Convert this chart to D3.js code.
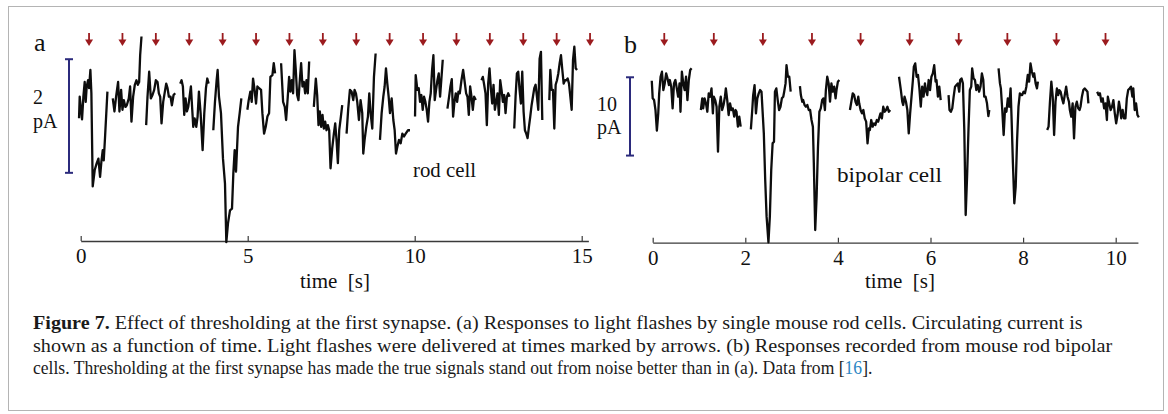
<!DOCTYPE html>
<html>
<head>
<meta charset="utf-8">
<script src="https://cdn.jsdelivr.net/npm/d3@7"></script>
<style>
  body { margin: 0; background: #fff; }
  svg { display: block; font-family: "Liberation Serif", "Times New Roman", serif; }
</style>
</head>
<body>
<div id="fig"></div>
<script>
// ---------------- data (time in s, current in pA, relative to baseline) ----------------
const rodTrace = [
  [[-0.05,-0.38],[-0.03,0],[0.01,-0.23],[0.04,-0.40],[0.08,0],[0.12,0.26],[0.15,-0.09],[0.18,0.18],[0.22,0.29],[0.25,0.15],[0.29,0.47],[0.32,0.06],[0.36,-1.58],[0.42,-1.29],[0.48,-1.17],[0.53,-1.09],[0.58,-1.41],[0.62,-1.14],[0.66,-0.94],[0.69,-1.12],[0.73,-0.70],[0.80,0.09]],
  [[0.96,-0.03],[1.01,-0.26],[1.06,0],[1.12,0.26],[1.16,-0.26],[1.21,0.12],[1.25,-0.23],[1.29,-0.06],[1.34,-0.18],[1.38,-0.15],[1.44,-0.03],[1.48,0.18],[1.52,-0.44],[1.57,0],[1.62,0.21],[1.67,0.29],[1.71,0.21],[1.75,0.26],[1.78,0.73],[1.82,1.06]],
  [[1.96,-0.50],[2.00,0],[2.05,0.44],[2.10,-0.03],[2.15,0.03],[2.20,0.12],[2.25,0.29],[2.30,0.26],[2.34,0.06],[2.38,0],[2.42,-0.47],[2.47,-0.09],[2.52,0.09],[2.56,0.23],[2.60,0.15],[2.64,0],[2.69,0],[2.73,-0.15],[2.78,0.03],[2.83,0.06]],
  [[2.98,0.23],[3.02,0.29],[3.06,0.18],[3.10,-0.32],[3.14,-0.03],[3.18,-0.26],[3.22,-0.18],[3.26,0],[3.30,0.18],[3.34,-0.23],[3.37,-0.53],[3.41,-0.38],[3.46,-0.53],[3.50,-0.35],[3.54,0.09],[3.59,-0.29],[3.65,-0.94],[3.70,-0.29],[3.75,0.15],[3.79,0.32],[3.83,0.23]],
  [[3.97,-0.59],[4.02,-0.09],[4.07,0.29],[4.10,0.47],[4.14,0],[4.20,-0.29],[4.26,-1.09],[4.32,-1.53],[4.36,-2.56],[4.41,-2.23],[4.47,-2.00],[4.53,-1.97],[4.57,-1.35],[4.61,-0.94],[4.65,-1.32],[4.71,-0.53],[4.76,-0.29],[4.81,-0.03]],
  [[4.99,-0.23],[5.03,-0.06],[5.08,0.09],[5.12,-0.09],[5.16,0.32],[5.20,0.15],[5.25,-0.12],[5.29,0.18],[5.34,0.15],[5.40,0.12],[5.44,-0.29],[5.49,-0.65],[5.54,-0.53],[5.59,-0.35],[5.64,-0.29],[5.68,0.35],[5.74,0.38],[5.78,0.59],[5.82,0.41]],
  [[6.00,0.59],[6.06,-0.09],[6.11,-0.18],[6.15,-0.41],[6.20,0],[6.24,0.35],[6.28,0.09],[6.32,0.29],[6.36,0.06],[6.40,0.82],[6.44,0.47],[6.48,0.03],[6.52,-0.06],[6.56,0.29],[6.60,0.59],[6.64,0.18],[6.68,0.26],[6.72,0.06],[6.76,0.29],[6.80,0.06],[6.84,0.62]],
  [[6.98,-0.18],[7.04,0.32],[7.08,0.03],[7.12,-0.50],[7.16,-0.26],[7.20,-0.53],[7.24,-0.32],[7.28,-0.56],[7.32,-0.44],[7.36,-0.59],[7.40,-0.50],[7.44,-0.59],[7.48,-1.26],[7.53,-0.91],[7.58,-0.65],[7.62,-0.47],[7.66,-0.76],[7.70,-1.17],[7.74,-0.59],[7.79,-0.35],[7.83,-0.15]],
  [[7.96,-0.65],[8.01,-0.21],[8.06,0.12],[8.11,0.09],[8.16,-0.06],[8.20,0.12],[8.24,0.06],[8.28,-0.09],[8.33,-0.41],[8.38,-0.06],[8.43,-0.29],[8.46,-1.00],[8.50,-0.76],[8.55,-0.53],[8.60,-0.35],[8.64,0.06],[8.68,-0.29],[8.73,-0.56],[8.78,0.35],[8.83,0.76]],
  [[8.96,-0.76],[9.01,-0.29],[9.06,0],[9.10,0.18],[9.14,0.50],[9.18,0.23],[9.22,0],[9.26,-0.29],[9.31,-0.03],[9.36,-0.41],[9.40,-0.59],[9.44,-1.00],[9.48,-0.88],[9.53,-0.76],[9.58,-0.82],[9.63,-0.65],[9.68,-0.70],[9.73,-0.65],[9.80,-0.59],[9.86,-0.59]],
  [[10.01,-0.35],[10.03,0.38],[10.08,0.12],[10.12,0.15],[10.16,-0.09],[10.20,0.03],[10.24,-0.23],[10.28,0],[10.32,-0.09],[10.36,-0.23],[10.40,-0.44],[10.44,-0.09],[10.48,0.06],[10.52,0.47],[10.56,0.73],[10.60,-0.06],[10.64,0.12],[10.68,0.29],[10.72,0.41],[10.76,0],[10.80,0.32],[10.84,0.65]],
  [[10.98,-0.21],[11.03,0],[11.07,0.18],[11.11,0.31],[11.15,-0.35],[11.19,-0.09],[11.23,0.06],[11.27,-0.09],[11.31,0.09],[11.35,0.06],[11.40,0.29],[11.45,0.47],[11.49,0.29],[11.54,0.06],[11.58,0],[11.62,-0.32],[11.66,0.18],[11.70,0],[11.74,-0.23],[11.78,0],[11.83,-0.06]],
  [[12.00,0.29],[12.04,0.35],[12.08,0.21],[12.12,0.06],[12.16,-0.50],[12.20,0.23],[12.24,0.50],[12.28,0.15],[12.32,-0.12],[12.36,0.21],[12.40,-0.23],[12.44,-0.09],[12.48,0.06],[12.52,-0.32],[12.56,0.29],[12.60,0.12],[12.64,-0.09],[12.68,0.03],[12.72,-0.29],[12.76,0],[12.80,0.06],[12.84,0]],
  [[12.98,-0.56],[13.02,0],[13.06,0.41],[13.10,0.44],[13.14,0.12],[13.18,-0.12],[13.22,0.44],[13.26,-0.26],[13.30,-0.59],[13.34,-0.65],[13.38,-0.73],[13.42,-0.53],[13.46,-0.35],[13.50,-0.15],[13.54,0],[13.58,0.15],[13.62,0.21],[13.66,0],[13.70,-0.23],[13.74,0.67],[13.78,0.79],[13.82,-0.41]],
  [[14.03,-0.06],[14.06,0.47],[14.10,0.12],[14.14,0.12],[14.18,-0.56],[14.22,0.21],[14.26,0.29],[14.30,0.41],[14.34,0.59],[14.38,0.73],[14.42,0.47],[14.46,0.23],[14.50,0.29],[14.54,0.29],[14.58,0.32],[14.62,0.23],[14.66,0],[14.70,-0.23],[14.74,0.65],[14.78,0.88],[14.82,0.50],[14.86,0.47]]
];

const bipolarTrace = [
  [[-0.02,2.04],[0.00,-0.21],[0.03,-0.43],[0.06,-1.70],[0.09,-4.34],[0.12,-2.13],[0.14,0.43],[0.17,2.55],[0.20,3.19],[0.23,0.85],[0.26,1.70],[0.29,2.98],[0.32,2.34],[0.35,1.49],[0.37,2.13],[0.40,1.28],[0.43,-1.49],[0.46,1.70],[0.49,2.13],[0.52,1.06],[0.55,0],[0.58,1.70],[0.60,-1.92],[0.63,3.19],[0.66,1.70],[0.69,0.85],[0.72,2.55],[0.75,-0.43],[0.78,2.13],[0.81,3.41],[0.84,3.62]],
  [[1.04,-1.70],[1.07,-0.21],[1.09,-1.49],[1.12,-0.21],[1.15,-0.85],[1.18,-1.92],[1.21,0.43],[1.24,0],[1.27,1.06],[1.30,-2.13],[1.32,0],[1.35,-0.43],[1.38,-1.28],[1.41,-7.02],[1.44,-1.28],[1.47,0],[1.50,-1.70],[1.53,-1.06],[1.56,0],[1.58,1.06],[1.61,-0.43],[1.64,-2.34],[1.67,-0.85],[1.70,-1.70],[1.73,-1.49],[1.76,-2.55],[1.79,-1.70],[1.81,-1.92],[1.84,-3.83],[1.87,-2.55],[1.90,-3.83]],
  [[2.12,-4.17],[2.15,-1.70],[2.17,0.21],[2.20,1.49],[2.23,-2.13],[2.26,-0.21],[2.29,0.43],[2.32,0.85],[2.35,0.64],[2.38,-2.55],[2.40,-4.68],[2.43,-10.64],[2.46,-15.32],[2.50,-18.6],[2.53,-15.32],[2.56,-9.37],[2.59,-5.96],[2.62,-5.75],[2.64,0.64],[2.67,1.06],[2.70,-0.43],[2.73,-1.70],[2.76,-1.28],[2.79,-0.21],[2.82,0],[2.84,0.64],[2.87,1.70],[2.89,4.04],[2.92,2.55],[2.95,2.55],[2.98,0.64]],
  [[3.18,1.36],[3.20,0.21],[3.23,-0.64],[3.25,-0.43],[3.28,-1.06],[3.31,-1.28],[3.34,-1.06],[3.37,-1.70],[3.40,-1.70],[3.43,-2.98],[3.46,-3.83],[3.48,-8.51],[3.51,-17.03],[3.54,-12.77],[3.57,-6.39],[3.60,-1.92],[3.63,-1.49],[3.66,-0.43],[3.69,-0.21],[3.72,-1.70],[3.74,0.85],[3.77,2.55],[3.80,1.70],[3.83,-0.64],[3.86,1.70],[3.89,0.64],[3.92,1.28],[3.95,-0.21],[3.97,0.85],[4.00,1.92],[4.03,2.13]],
  [[4.26,-1.70],[4.29,-0.64],[4.32,0.43],[4.35,0.21],[4.38,-0.64],[4.41,-1.06],[4.44,0],[4.46,-0.85],[4.49,-1.70],[4.52,-2.13],[4.55,-1.70],[4.58,-2.77],[4.61,-3.19],[4.64,-5.96],[4.67,-4.04],[4.69,-4.26],[4.72,-2.98],[4.75,-3.83],[4.78,-3.41],[4.81,-3.62],[4.84,-2.98],[4.87,-3.19],[4.90,-2.55],[4.92,-2.13],[4.95,-2.77],[4.98,-1.28],[5.01,-1.92],[5.04,-1.70],[5.07,-1.28],[5.10,-1.92],[5.13,-1.70]],
  [[5.32,2.55],[5.36,0.85],[5.39,-0.64],[5.41,-1.06],[5.44,0],[5.47,-0.64],[5.50,-1.70],[5.53,-4.68],[5.56,-2.13],[5.59,0],[5.62,2.13],[5.64,3.83],[5.67,4.26],[5.70,2.55],[5.73,2.77],[5.76,1.06],[5.79,-1.28],[5.82,1.28],[5.85,0],[5.88,1.70],[5.90,0.85],[5.93,0.21],[5.96,2.13],[5.99,0.85],[6.02,2.55],[6.05,2.98],[6.08,4.04],[6.11,1.92],[6.13,2.13],[6.16,0],[6.19,1.28],[6.22,-0.43]],
  [[6.39,0.21],[6.41,-1.70],[6.44,-1.92],[6.47,-1.49],[6.50,0],[6.53,1.28],[6.56,1.49],[6.59,1.70],[6.62,0.64],[6.64,2.13],[6.67,2.34],[6.70,1.70],[6.73,-4.26],[6.76,-15.11],[6.79,-10.22],[6.82,-4.26],[6.85,0.85],[6.88,1.28],[6.90,3.62],[6.93,2.34],[6.96,2.13],[6.99,0.85],[7.02,1.49],[7.05,0.64],[7.08,1.28],[7.11,2.98],[7.14,2.13],[7.16,0],[7.19,0],[7.22,-0.85],[7.25,-2.47],[7.27,-1.70]],
  [[7.47,3.62],[7.50,1.70],[7.52,1.06],[7.55,-1.70],[7.58,-4.90],[7.61,-1.49],[7.64,-1.92],[7.67,-0.21],[7.70,-1.28],[7.73,1.06],[7.75,-2.55],[7.78,-8.51],[7.81,-13.62],[7.84,-11.49],[7.87,-5.53],[7.90,-1.28],[7.93,0.43],[7.96,0.21],[7.98,0.21],[8.01,0.64],[8.04,0.43],[8.07,1.28],[8.10,2.77],[8.13,1.92],[8.16,4.26],[8.19,3.19],[8.22,2.55],[8.24,2.98],[8.27,1.70],[8.30,1.06],[8.32,1.92]],
  [[8.52,-4.26],[8.55,-3.83],[8.58,-0.64],[8.61,1.92],[8.64,0],[8.67,-4.90],[8.70,-0.64],[8.73,1.06],[8.76,0.21],[8.78,0.85],[8.81,0.64],[8.84,-0.21],[8.87,-0.85],[8.90,0.21],[8.93,1.28],[8.96,0],[8.99,-0.64],[9.01,-1.70],[9.04,-2.55],[9.07,-0.85],[9.10,-5.32],[9.13,-1.28],[9.16,-0.64],[9.19,-1.49],[9.22,-1.70],[9.24,-1.28],[9.27,0],[9.30,0.85],[9.33,1.06],[9.36,0.85],[9.39,0.64],[9.41,-0.85]],
  [[9.60,0.64],[9.63,0.21],[9.66,0.43],[9.69,-0.64],[9.72,-0.21],[9.75,-1.49],[9.78,-0.85],[9.81,-2.98],[9.83,0],[9.86,-0.85],[9.89,-1.70],[9.92,-1.28],[9.95,-0.43],[9.98,-2.13],[10.01,-3.41],[10.04,-2.34],[10.07,-0.64],[10.10,-1.70],[10.12,-2.77],[10.15,-1.70],[10.18,-2.77],[10.21,-2.77],[10.24,-0.21],[10.27,0.85],[10.30,1.06],[10.33,1.28],[10.36,0],[10.38,1.06],[10.41,-1.70],[10.44,-0.85],[10.47,-2.34],[10.50,-2.64]]
];

const rodFlashTimes = [0.25, 1.25, 2.25, 3.25, 4.25, 5.25, 6.25, 7.25, 8.25, 9.25, 10.25, 11.25, 12.25, 13.25, 14.25, 15.25];
const bipolarFlashTimes = [0.25, 1.32, 2.38, 3.44, 4.49, 5.55, 6.61, 7.66, 8.72, 9.78];

const rodTicks = [0, 5, 10, 15];
const bipolarTicks = [0, 2, 4, 6, 8, 10];

// ---------------- svg ----------------
const width = 1168, height = 414;
const svg = d3.select("#fig").append("svg")
  .attr("width", width)
  .attr("height", height)
  .attr("viewBox", [0, 0, width, height]);

svg.append("rect")
  .attr("x", 8.5).attr("y", 6.5)
  .attr("width", 1155).attr("height", 404)
  .attr("fill", "none")
  .attr("stroke", "#b4b4b4")
  .attr("stroke-width", 1);

const arrowColor = "#9b1b1e";
const barColor = "#2b2a7c";

function drawPanel(p) {
  const g = svg.append("g");

  const x = d3.scaleLinear().domain(p.xDomain).range(p.xRange);
  const y = d3.scaleLinear().domain(p.yDomain).range(p.yRange);

  // axis along the bottom, ticks pointing up
  const axis = g.append("g")
    .attr("transform", `translate(0,${p.yRange[0]})`)
    .call(d3.axisBottom(x).tickValues(p.ticks).tickSizeInner(-5).tickSizeOuter(0).tickPadding(7));
  axis.select(".domain").attr("stroke", "#3a3a3a").attr("stroke-width", 1.3);
  axis.selectAll(".tick line").attr("stroke", "#3a3a3a").attr("stroke-width", 1.2);
  axis.selectAll(".tick text")
    .attr("font-family", "Liberation Serif, serif")
    .attr("font-size", 21)
    .attr("fill", "#111");

  g.append("text")
    .attr("x", p.xLabelX).attr("y", 288)
    .attr("text-anchor", "middle")
    .attr("font-size", 21)
    .attr("fill", "#111")
    .style("white-space", "pre")
    .text("time  [s]");

  // flash arrows
  const arrows = g.selectAll(".arrow").data(p.flashes).join("g")
    .attr("transform", d => `translate(${x(d)},0)`);
  arrows.append("line")
    .attr("y1", 33).attr("y2", 41)
    .attr("stroke", arrowColor).attr("stroke-width", 1.8);
  arrows.append("path")
    .attr("d", "M-4,39.5L4,39.5L0,46Z")
    .attr("fill", arrowColor);

  // trace
  const line = d3.line().x(d => x(d[0])).y(d => y(d[1]));
  g.selectAll(".seg").data(p.trace).join("path")
    .attr("d", line)
    .attr("fill", "none")
    .attr("stroke", "#0d0d0d")
    .attr("stroke-width", 2.3)
    .attr("stroke-linejoin", "round")
    .attr("stroke-linecap", "butt");

  // scale bar
  const bx = x(p.bar.t), by1 = y(p.bar.top), by2 = y(p.bar.top - p.bar.size);
  g.append("line").attr("x1", bx).attr("x2", bx).attr("y1", by1).attr("y2", by2)
    .attr("stroke", barColor).attr("stroke-width", 2);
  [by1, by2].forEach(v => g.append("line")
    .attr("x1", bx - 4).attr("x2", bx + 4).attr("y1", v).attr("y2", v)
    .attr("stroke", barColor).attr("stroke-width", 2));

  g.append("text").attr("x", p.barLabel.x).attr("y", p.barLabel.y1)
    .attr("font-size", 20).attr("fill", "#111").text(p.barLabel.value);
  g.append("text").attr("x", p.barLabel.x).attr("y", p.barLabel.y2)
    .attr("font-size", 20).attr("fill", "#111").text("pA");

  // panel letter and cell label
  g.append("text").attr("x", p.letter.x).attr("y", p.letter.y)
    .attr("font-size", 26).attr("fill", "#111").text(p.letter.text);
  g.append("text").attr("x", p.cell.x).attr("y", p.cell.y)
    .attr("font-size", 21).attr("fill", "#111")
    .attr("textLength", p.cell.w).attr("lengthAdjust", "spacingAndGlyphs")
    .text(p.cell.text);
}

drawPanel({
  trace: rodTrace, flashes: rodFlashTimes, ticks: rodTicks,
  xDomain: [0, 15.2], xRange: [80.7, 80.7 + 15.2 * 33.4],
  yDomain: [-2.54, 1], yRange: [241, 39.9],
  xLabelX: 335,
  bar: { t: -0.35, top: 0.66, size: 2 },
  barLabel: { x: 33, y1: 104, y2: 128, value: "2" },
  letter: { x: 34, y: 51, text: "a" },
  cell: { x: 413, y: 177, w: 63, text: "rod cell" }
});

drawPanel({
  trace: bipolarTrace, flashes: bipolarFlashTimes, ticks: bipolarTicks,
  xDomain: [0, 10.48], xRange: [652.7, 652.7 + 10.48 * 46.3],
  yDomain: [-18.65, 7], yRange: [242.7, 41.9],
  xLabelX: 900,
  bar: { t: -0.49, top: 2.48, size: 10 },
  barLabel: { x: 597, y1: 111, y2: 134, value: "10" },
  letter: { x: 624, y: 53, text: "b" },
  cell: { x: 837, y: 182, w: 105, text: "bipolar cell" }
});

// ---------------- caption ----------------
const captionLines = [
  { parts: [["Figure 7.", "bold"], [" Effect of thresholding at the first synapse. (a) Responses to light flashes by single mouse rod cells. Circulating current is", ""]], w: 1050 },
  { parts: [["shown as a function of time. Light flashes were delivered at times marked by arrows. (b) Responses recorded from mouse rod bipolar", ""]], w: 1080 },
  { parts: [["cells. Thresholding at the first synapse has made the true signals stand out from noise better than in (a). Data from [", ""], ["16", "link"], ["].", ""]], w: 840 }
];

captionLines.forEach((ln, i) => {
  const t = svg.append("text")
    .attr("font-size", 19)
    .attr("fill", "#1a1a1a")
    .style("white-space", "pre");
  ln.parts.forEach(([s, k]) => {
    t.append("tspan")
      .attr("font-weight", k === "bold" ? "bold" : null)
      .attr("fill", k === "link" ? "#2a86c4" : null)
      .text(s);
  });
  const natural = t.node().getComputedTextLength();
  t.attr("transform", `translate(33,${329 + i * 22.5}) scale(${ln.w / natural},1)`);
});
</script>
</body>
</html>
